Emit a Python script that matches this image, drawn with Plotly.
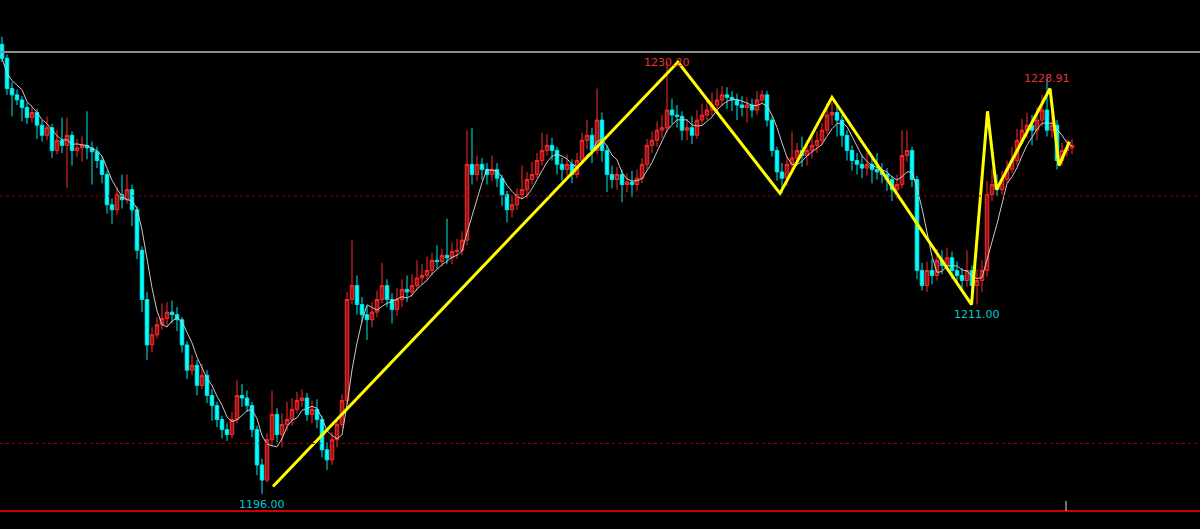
import plotly.graph_objects as go
import pandas as pd

# ---- data (prices) ----
first_open = 1231.6
closes = [
    1230.5, 1228.1, 1227.6, 1227.2, 1226.6, 1225.8, 1226.2, 1225.2, 1224.4, 1225.0,
    1223.2, 1224.0, 1223.6, 1224.4, 1223.2, 1223.4, 1223.6, 1223.4, 1223.1, 1222.4,
    1221.3, 1218.9, 1218.5, 1219.7, 1219.3, 1220.1, 1218.5, 1215.3, 1211.4, 1207.8,
    1208.6, 1209.4, 1209.9, 1210.4, 1210.2, 1209.8, 1207.8, 1205.8, 1206.2, 1204.6,
    1205.4, 1203.8, 1203.0, 1201.9, 1201.1, 1200.7, 1201.9, 1203.8, 1203.6, 1203.0,
    1201.1, 1198.3, 1197.1, 1200.3, 1202.3, 1200.7, 1201.5, 1201.9, 1202.7, 1203.4,
    1203.6, 1202.3, 1202.7, 1201.9, 1199.5, 1198.7, 1200.3, 1201.5, 1203.4, 1211.4,
    1212.5, 1211.0, 1210.2, 1209.8, 1210.4, 1211.4, 1212.5, 1211.4, 1210.6, 1211.4,
    1212.2, 1212.0, 1212.5, 1213.1, 1213.3, 1213.7, 1214.5, 1214.4, 1214.9, 1214.7,
    1215.2, 1215.3, 1216.1, 1222.1, 1221.3, 1222.1, 1221.7, 1221.3, 1221.7, 1221.0,
    1219.7, 1218.5, 1218.9, 1219.7, 1220.1, 1220.9, 1221.3, 1222.4, 1223.2, 1223.6,
    1223.2, 1222.1, 1221.7, 1222.1, 1221.3, 1222.4, 1224.0, 1224.4, 1223.2, 1225.6,
    1223.2, 1221.3, 1220.9, 1221.3, 1220.5, 1220.7, 1220.5, 1221.0, 1222.1, 1223.6,
    1224.0, 1224.8, 1225.0, 1226.4, 1226.0, 1225.9, 1224.8, 1225.0, 1224.4, 1225.6,
    1226.0, 1226.4, 1226.8, 1227.2, 1227.6, 1227.4, 1227.2, 1226.8, 1226.6, 1226.8,
    1226.4, 1227.2, 1227.6, 1225.6, 1223.2, 1221.5, 1221.0, 1222.1, 1222.6, 1223.2,
    1222.8, 1223.2, 1223.6, 1224.0, 1224.8, 1226.0, 1226.2, 1225.6, 1224.4, 1223.2,
    1222.4, 1222.1, 1221.8, 1222.1, 1221.7, 1221.5, 1221.3, 1220.9, 1220.1, 1220.5,
    1222.8, 1223.2, 1220.9, 1213.7, 1212.5, 1213.7, 1213.3, 1214.5, 1214.1, 1214.7,
    1213.7, 1213.3, 1212.9, 1213.7, 1212.5, 1212.9, 1213.7, 1219.7, 1220.5, 1220.1,
    1220.9, 1221.7, 1222.4, 1224.0, 1224.8, 1225.2, 1224.8, 1225.6, 1226.4, 1224.8,
    1225.2, 1222.4, 1223.2, 1223.4, 1223.6,
]
highs = [
    1232.2, 1230.8, 1228.6, 1228.0, 1227.5, 1227.0, 1226.7, 1226.5, 1225.6, 1225.9,
    1225.3, 1224.8, 1225.8, 1225.8, 1224.7, 1224.1, 1224.3, 1226.3, 1223.9, 1223.5,
    1222.7, 1221.6, 1219.4, 1220.3, 1221.3, 1221.3, 1220.5, 1218.8, 1215.6, 1212.0,
    1209.2, 1210.0, 1211.1, 1211.2, 1211.3, 1210.8, 1210.0, 1208.1, 1207.0, 1206.6,
    1206.3, 1205.8, 1204.3, 1203.3, 1202.2, 1201.6, 1202.5, 1205.0, 1204.7, 1204.2,
    1203.3, 1201.4, 1198.8, 1200.8, 1204.2, 1202.8, 1202.4, 1203.3, 1203.6, 1204.1,
    1204.3, 1204.0, 1203.4, 1203.5, 1202.2, 1200.1, 1200.9, 1202.0, 1203.9, 1212.0,
    1216.1, 1213.3, 1211.6, 1210.9, 1211.2, 1212.1, 1214.3, 1213.0, 1211.9, 1212.3,
    1213.0, 1213.3, 1213.4, 1214.5, 1214.2, 1214.8, 1215.1, 1215.7, 1215.4, 1217.8,
    1215.9, 1216.2, 1216.8, 1224.8, 1225.0, 1222.8, 1222.6, 1222.2, 1222.8, 1222.2,
    1221.3, 1220.0, 1219.6, 1220.2, 1222.0, 1221.5, 1222.3, 1223.0, 1224.6, 1224.5,
    1224.2, 1223.5, 1222.6, 1222.9, 1222.5, 1223.0, 1224.6, 1225.6, 1225.0, 1228.1,
    1226.2, 1223.6, 1222.0, 1221.9, 1221.7, 1221.4, 1221.6, 1221.7, 1222.6, 1224.1,
    1224.7, 1225.5, 1226.0, 1230.2, 1227.3, 1226.8, 1226.3, 1225.7, 1225.9, 1226.4,
    1226.9, 1227.2, 1227.8, 1228.1, 1228.3, 1228.2, 1227.9, 1227.7, 1227.5, 1227.4,
    1227.3, 1227.9, 1228.0, 1227.9, 1225.9, 1223.5, 1222.2, 1222.7, 1224.7, 1223.8,
    1224.3, 1224.0, 1224.6, 1224.7, 1225.4, 1226.9, 1227.0, 1226.8, 1226.0, 1224.8,
    1223.6, 1223.0, 1222.8, 1223.0, 1222.6, 1223.0, 1222.2, 1221.8, 1221.2, 1221.3,
    1224.8, 1224.8, 1223.5, 1221.2, 1214.3, 1214.4, 1214.6, 1215.4, 1215.3, 1215.5,
    1215.2, 1214.4, 1213.9, 1215.3, 1214.1, 1213.8, 1214.5, 1220.8, 1221.7, 1221.3,
    1221.6, 1222.4, 1223.5, 1224.9, 1225.7, 1226.2, 1226.0, 1226.6, 1227.6, 1228.91,
    1226.4, 1225.6, 1223.8, 1224.1, 1224.1,
]
lows = [
    1230.2, 1227.6, 1225.9, 1226.8, 1225.5, 1225.3, 1225.4, 1224.1, 1223.9, 1224.0,
    1222.6, 1222.9, 1223.0, 1220.2, 1222.0, 1222.7, 1222.3, 1222.5, 1220.5, 1221.8,
    1220.6, 1218.2, 1217.4, 1218.1, 1218.6, 1219.0, 1217.2, 1214.6, 1210.4, 1206.6,
    1207.2, 1208.3, 1209.0, 1209.3, 1209.5, 1208.9, 1207.2, 1205.1, 1205.4, 1203.8,
    1204.3, 1203.2, 1201.8, 1201.3, 1200.4, 1200.2, 1200.4, 1201.6, 1202.9, 1202.5,
    1200.5, 1197.5, 1196.0, 1196.9, 1199.8, 1200.1, 1199.7, 1201.0, 1201.4, 1202.4,
    1202.9, 1201.8, 1201.6, 1201.2, 1198.9, 1197.9, 1198.3, 1199.7, 1201.2, 1203.1,
    1211.0, 1210.2, 1209.6, 1208.2, 1209.2, 1210.0, 1211.1, 1210.8, 1209.5, 1210.1,
    1210.8, 1211.2, 1211.6, 1212.1, 1212.6, 1212.9, 1213.3, 1213.8, 1214.0, 1214.2,
    1214.2, 1214.6, 1214.9, 1215.7, 1220.5, 1220.8, 1220.9, 1220.5, 1220.8, 1220.3,
    1218.8, 1217.5, 1217.9, 1218.5, 1219.3, 1219.4, 1220.5, 1221.0, 1222.0, 1222.8,
    1222.4, 1221.3, 1220.8, 1221.2, 1220.6, 1221.0, 1222.1, 1223.3, 1222.2, 1222.9,
    1222.3, 1219.9, 1220.2, 1220.1, 1219.1, 1219.9, 1219.5, 1220.0, 1220.6, 1221.7,
    1223.0, 1223.5, 1224.2, 1224.6, 1225.3, 1225.0, 1224.0, 1224.0, 1223.7, 1224.1,
    1225.2, 1225.6, 1225.9, 1226.2, 1226.7, 1226.5, 1226.3, 1225.6, 1225.9, 1225.4,
    1225.8, 1226.0, 1226.9, 1225.1, 1222.7, 1220.8, 1219.8, 1220.4, 1221.6, 1222.0,
    1221.9, 1222.0, 1222.6, 1223.0, 1223.6, 1224.5, 1225.2, 1224.3, 1223.5, 1222.4,
    1221.6, 1221.3, 1221.0, 1221.2, 1220.6, 1220.9, 1220.6, 1220.0, 1219.2, 1219.4,
    1220.2, 1222.3, 1220.3, 1213.0, 1212.1, 1212.0, 1212.6, 1212.9, 1213.4, 1213.8,
    1213.0, 1212.5, 1212.2, 1212.4, 1211.5, 1211.0, 1212.0, 1213.2, 1219.2, 1219.6,
    1219.7, 1220.6, 1221.4, 1222.0, 1223.7, 1224.2, 1223.6, 1224.0, 1225.1, 1224.3,
    1224.2, 1221.7, 1222.0, 1222.7, 1222.9,
]
opens = [first_open] + closes[:-1]
bars = list(range(len(closes)))

# zigzag pivots (bar position, price)
zz_x = [54.2, 135.2, 155.6, 166.0, 193.9, 197.1, 198.9, 209.6, 211.4, 213.5]
zz_y = [1196.6, 1230.2, 1219.8, 1227.4, 1211.0, 1226.3, 1220.1, 1228.1, 1222.0, 1223.9]

# price labels: (bar, price, text, kind)
labels = [
    (133, 1230.2, "1230.20", "high"),
    (209, 1228.91, "1228.91", "high"),
    (52, 1196.0, "1196.00", "low"),
    (195, 1211.0, "1211.00", "low"),
]

# horizontal level lines
gray_level = 1231.0
dotted_levels = [1219.6, 1200.0]
bottom_level = 1194.65
separator_bar = 212.8
separator_top = 1195.45

ma_period = 5

# ---- figure ----
ma = pd.Series(closes).rolling(ma_period, min_periods=1).mean()

fig = go.Figure()
fig.add_trace(go.Candlestick(
    x=bars, open=opens, high=highs, low=lows, close=closes,
    increasing=dict(line=dict(color="#ff2a2a", width=1), fillcolor="#9a1616"),
    decreasing=dict(line=dict(color="#00e8e8", width=1), fillcolor="#00ffff"),
    whiskerwidth=0, hoverinfo="skip", showlegend=False,
))
fig.add_trace(go.Scatter(
    x=bars, y=ma, mode="lines", line=dict(color="#c8c8c8", width=1),
    hoverinfo="skip", showlegend=False,
))
fig.add_trace(go.Scatter(
    x=zz_x, y=zz_y, mode="lines", line=dict(color="#ffff00", width=3),
    hoverinfo="skip", showlegend=False,
))

fig.add_hline(y=gray_level, line=dict(color="#8c8c8c", width=2))
for lv in dotted_levels:
    fig.add_hline(y=lv, line=dict(color="#a00000", width=1, dash="dot"))
fig.add_hline(y=bottom_level, line=dict(color="#d00000", width=2))
fig.add_shape(type="line", x0=separator_bar, x1=separator_bar,
              y0=bottom_level, y1=separator_top,
              line=dict(color="#9a9a9a", width=1.5))

for bx, price, txt, kind in labels:
    fig.add_annotation(
        x=bx, y=price, text=txt, showarrow=False,
        font=dict(family="DejaVu Sans", size=11,
                  color="#e83030" if kind == "high" else "#00c8d0"),
        yshift=0 if kind == "high" else -10,
        xanchor="center", yanchor="middle",
    )

fig.update_layout(
    width=1200, height=529,
    margin=dict(l=0, r=0, t=0, b=0),
    paper_bgcolor="#000000", plot_bgcolor="#000000",
    boxgap=0,
    xaxis=dict(range=[-0.4, 239.6], visible=False, rangeslider=dict(visible=False),
               showgrid=False, zeroline=False),
    yaxis=dict(range=[1193.23, 1235.11], visible=False, showgrid=False, zeroline=False),
    hovermode=False,
    showlegend=False,
)

fig.write_html(
    "out.html",
    config={"displayModeBar": False},
    post_script="document.body.style.margin='0';document.body.style.background='#000';",
)
